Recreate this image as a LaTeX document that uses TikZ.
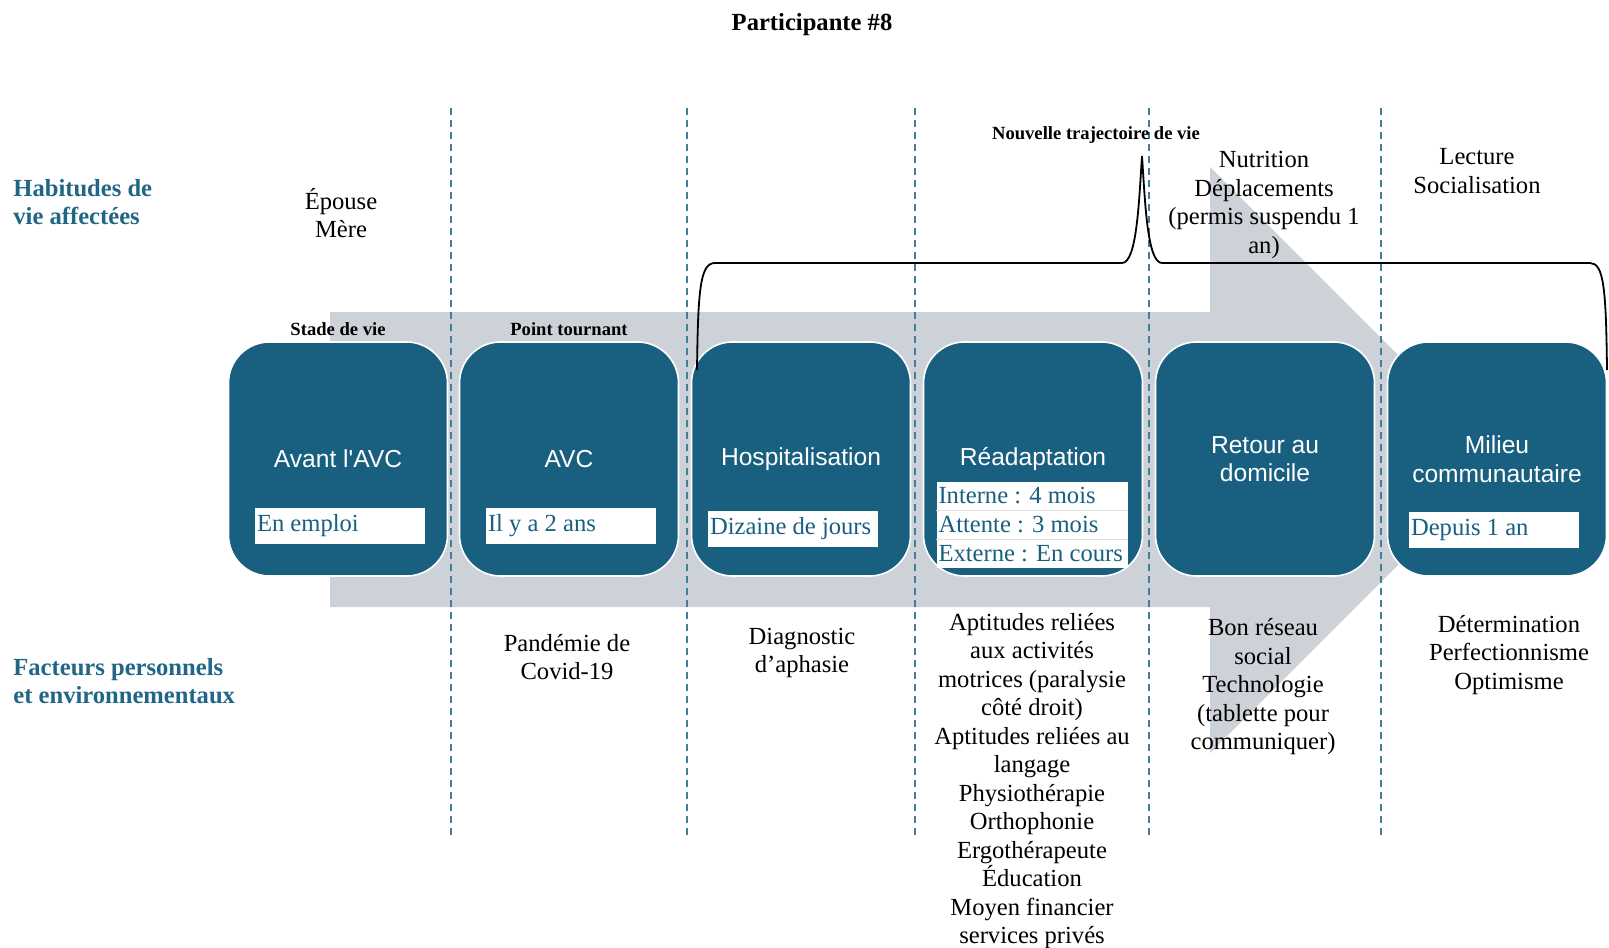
\documentclass[tikz,border=0pt]{standalone}
\usepackage{fontspec}
\setmainfont{Liberation Serif}
\setsansfont{Liberation Sans}
\usetikzlibrary{positioning}
\definecolor{boxblue}{RGB}{25,96,128}
\definecolor{labelblue}{RGB}{33,102,135}
\definecolor{arrowgray}{RGB}{205,210,217}
\newcommand\taille{\fontsize{12.3}{14.25}\selectfont}
\newcommand\petite{\fontsize{9.3}{11}\selectfont}
\tikzset{
  etape/.style={draw=white,line width=0.8pt,fill=boxblue,rounded corners=20.5pt,
    minimum width=109.5pt,minimum height=117pt,text=white,font=\sffamily\taille,align=center},
  info/.style={fill=white,text=boxblue,font=\taille,minimum height=18pt,
    text width=83pt,inner xsep=1pt,inner ysep=0pt,align=flush left},
  ligne/.style={info,minimum height=14pt,text width=93.5pt},
  txt/.style={font=\taille,align=center},
  petit/.style={font=\bfseries\petite},
  rubrique/.style={font=\bfseries\taille,text=labelblue,align=left,anchor=west,inner xsep=0pt},
  sep/.style={labelblue!85,line width=1pt,dash pattern=on 3.5pt off 2.5pt}
}
\begin{document}
\begin{tikzpicture}[x=0.5pt,y=-0.5pt]
  \useasboundingbox (0,0) rectangle (1609,947);
  \fill[arrowgray] (330,312) -- (1210,312) -- (1210,167) -- (1503,460)
    -- (1210,753) -- (1210,607) -- (330,607) -- cycle;
  \foreach \x in {451,687,915,1149,1381} {
    \draw[sep] (\x,108) -- (\x,836);
  }
  \node[txt,font=\bfseries\taille] (titre) at (812,25) {Participante \#8};
  \node[rubrique] (habitudes) at (13,202) {Habitudes de\\vie affectées};
  \node[rubrique] (facteurs) at (13,681) {Facteurs personnels\\et environnementaux};

  \node[etape] (avant) at (338,459) {Avant l\textquotesingle AVC};
  \node[etape] (avc) at (569,459) {AVC};
  \node[etape] (hosp) at (801,459) {Hospitalisation};
  \node[etape] (readapt) at (1033,459) {Réadaptation};
  \node[etape] (retour) at (1265,459) {Retour au\\domicile};
  \node[etape] (milieu) at (1497,459) {Milieu\\communautaire};

  \node[petit,above=-1pt of avant] (stade) {Stade de vie};
  \node[petit,above=-1pt of avc] (tournant) {Point tournant};
  \node[petit] (trajectoire) at (1096,135) {Nouvelle trajectoire de vie};

  \node[info] (emploi) at (340,526) {En emploi};
  \node[info] (ans) at (571,526) {Il y a 2 ans};
  \node[info] (dizaine) at (793,529) {Dizaine de jours};
  \node[ligne] (interne) at (1032,496) {Interne : 4 mois};
  \node[ligne,below=0pt of interne] (attente) {Attente : 3 mois};
  \node[ligne,below=0pt of attente] (externe) {Externe : En cours};
  \draw[black!12] (interne.south west) -- (interne.south east)
    (attente.south west) -- (attente.south east);
  \node[info] (depuis) at (1494,530) {Depuis 1 an};

  \coordinate (accg) at (697,370);
  \coordinate (accp) at (1142,156);
  \coordinate (accd) at (1607,370);
  \draw[line width=0.9pt] (accg) .. controls (698,290) and (700,263) .. (715,263)
    -- (1122,263) .. controls (1137,263) and (1139,200) .. (accp)
    .. controls (1145,200) and (1147,263) .. (1162,263)
    -- (1590,263) .. controls (1604,263) and (1606,290) .. (accd);

  \node[txt] (epouse) at (341,213) {Épouse\\Mère};
  \node[txt] (nutrition) at (1264,205) {Nutrition\\Déplacements\\(permis suspendu 1\\an)};
  \node[txt] (lecture) at (1477,171) {Lecture\\Socialisation};

  \node[txt] (pandemie) at (567,657) {Pandémie de\\Covid-19};
  \node[txt] (diagnostic) at (802,653) {Diagnostic\\d’aphasie};
  \node[txt] (aptitudes) at (1032,781) {Aptitudes reliées\\aux activités\\motrices (paralysie\\côté droit)\\Aptitudes reliées au\\langage\\Physiothérapie\\Orthophonie\\Ergothérapeute\\Éducation\\Moyen financier\\services privés};
  \node[txt] (reseau) at (1263,687) {Bon réseau\\social\\Technologie\\(tablette pour\\communiquer)};
  \node[txt] (determination) at (1509,655) {Détermination\\Perfectionnisme\\Optimisme};
\end{tikzpicture}
\end{document}
